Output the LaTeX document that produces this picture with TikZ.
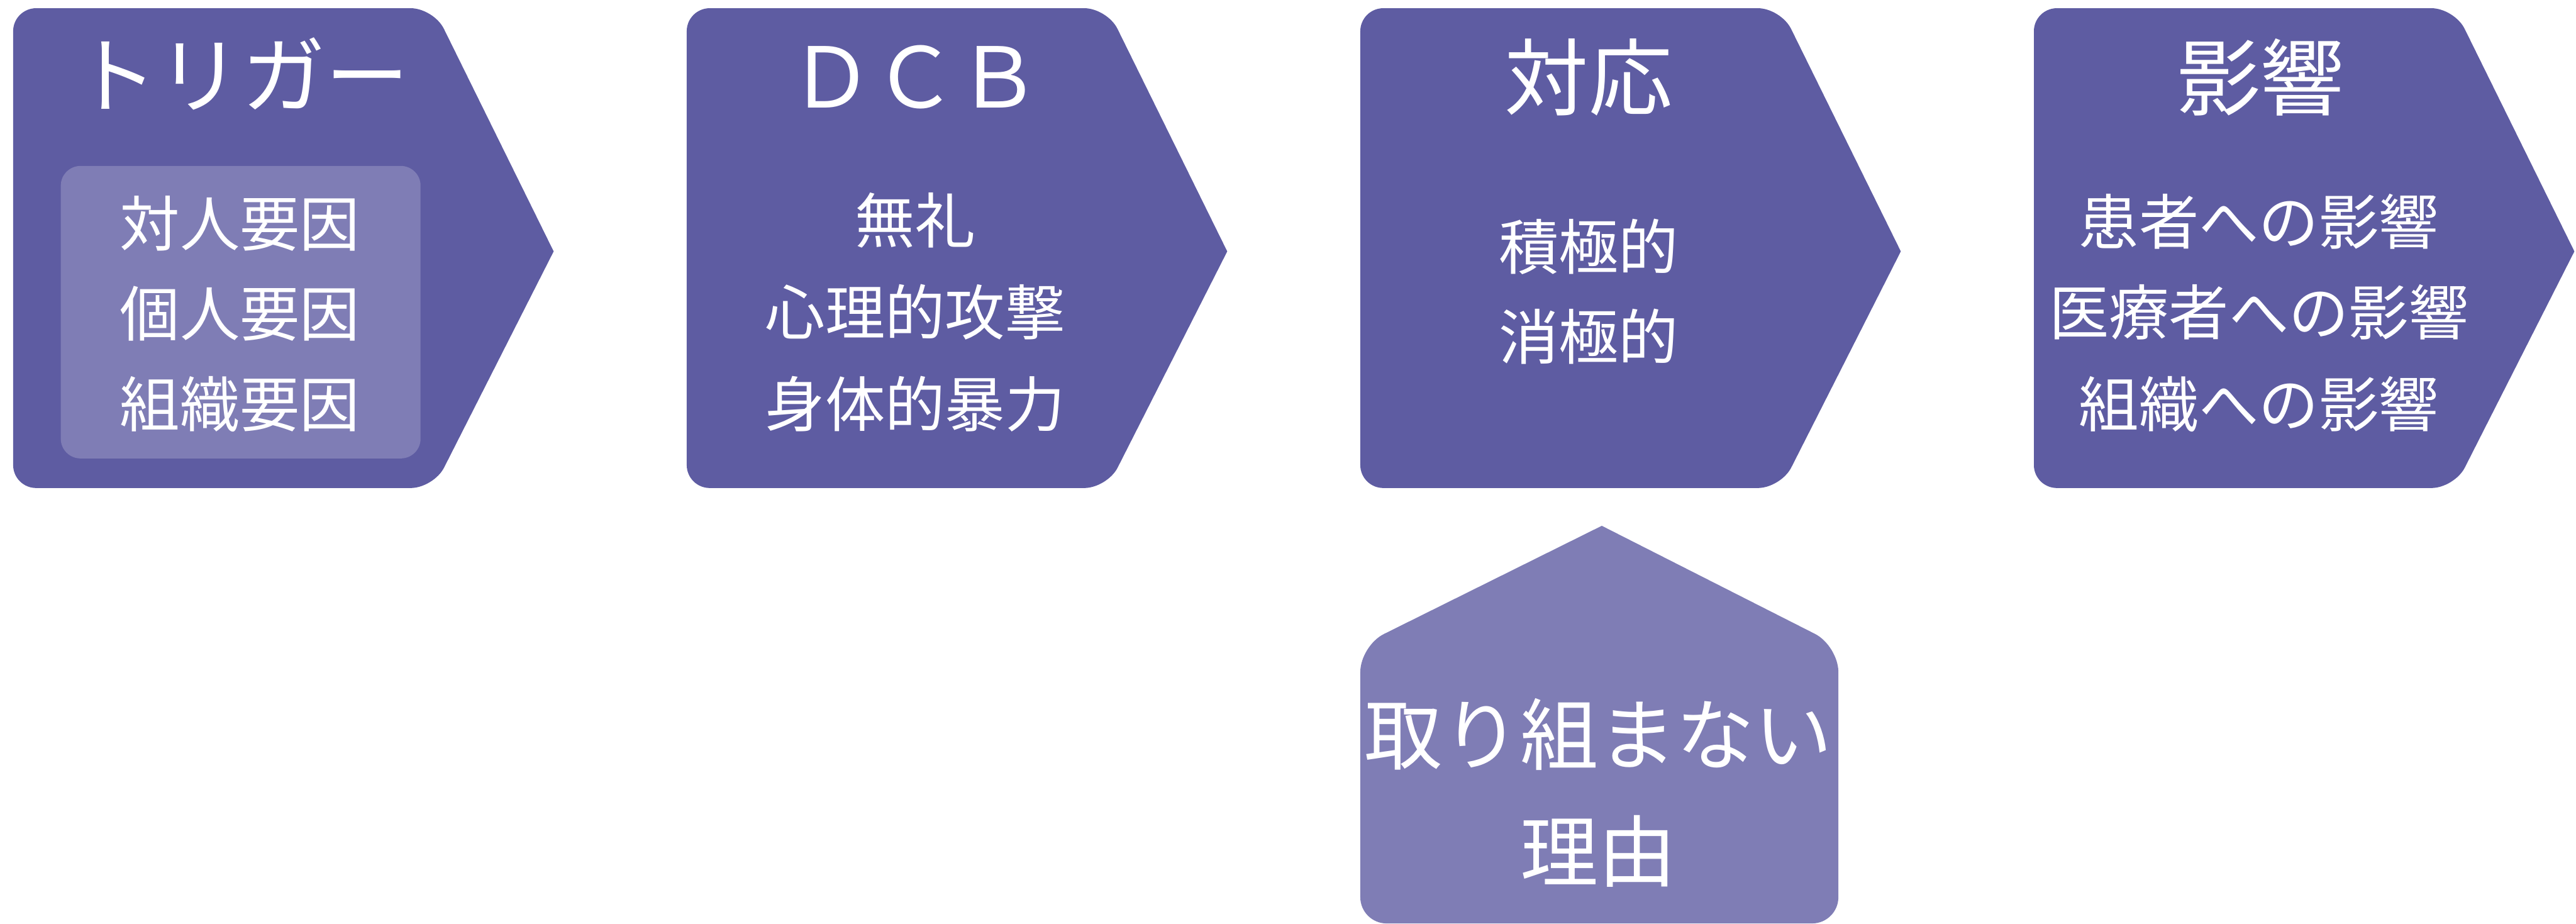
\documentclass[tikz,border=0pt]{standalone}
\usepackage{fontspec}
\newfontfamily\jp{Noto Sans CJK JP}
\definecolor{darkp}{HTML}{5E5CA2}
\definecolor{lightp}{HTML}{7F7DB5}
\begin{document}
\begin{tikzpicture}[x=1pt,y=-1pt,
  title/.style={text=white,font=\jp\fontsize{51}{51}\selectfont,inner sep=0pt},
  body/.style={text=white,font=\jp\fontsize{36.5}{36.5}\selectfont,inner sep=0pt},
  big/.style={text=white,font=\jp\fontsize{47.5}{47.5}\selectfont,inner sep=0pt}]
\useasboundingbox (0,0) rectangle (1568,562);
% chevrons
\foreach \x in {8,418,828,1238}{
  \fill[darkp, rounded corners=14] (\x+329,153) -- (\x+256,297) -- (\x,297) -- (\x,5) -- (\x+256,5) -- (\x+329,153);
}
% inner box of trigger
\fill[lightp, rounded corners=12] (37,101) rectangle (256,279);
% pentagon
\fill[lightp, rounded corners=16] (975,320) -- (1119,393) -- (1119,562) -- (828,562) -- (828,393) -- (975,320);
% titles
\node[title] (t1) at (147,45) {トリガー};
\node[title] (t2) at (557,47) {ＤＣＢ};
\node[title] (t3) at (967,47) {対応};
\node[title] (t4) at (1376,47) {影響};
% box 1
\node[body] (a1) at (146,136) {対人要因};
\node[body] (a2) at (146,191) {個人要因};
\node[body] (a3) at (146,246) {組織要因};
% box 2
\node[body] (b1) at (557,134) {無礼};
\node[body] (b2) at (557,190) {心理的攻撃};
\node[body] (b3) at (557,246) {身体的暴力};
% box 3
\node[body] (c1) at (967,150) {積極的};
\node[body] (c2) at (967,205) {消極的};
% box 4
\node[body] (d1) at (1375,135) {患者への影響};
\node[body] (d2) at (1375,190) {医療者への影響};
\node[body] (d3) at (1375,246) {組織への影響};
% pentagon text
\node[big] (e1) at (973,447) {取り組まない};
\node[big] (e2) at (973,518) {理由};
\end{tikzpicture}
\end{document}
